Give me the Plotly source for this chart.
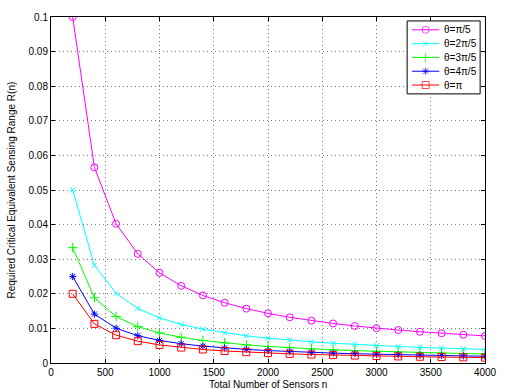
import plotly.graph_objects as go

n = [200, 400, 600, 800, 1000, 1200, 1400, 1600, 1800, 2000,
     2200, 2400, 2600, 2800, 3000, 3200, 3400, 3600, 3800, 4000]

r_pi5 = [0.1, 0.05654, 0.04025, 0.03154, 0.02608, 0.02230, 0.01953, 0.01741, 0.01572, 0.01435,
         0.01321, 0.01224, 0.01142, 0.01070, 0.01007, 0.00952, 0.00903, 0.00859, 0.00819, 0.00783]
r_2pi5 = [0.05, 0.02827, 0.02013, 0.01577, 0.01304, 0.01115, 0.00977, 0.00871, 0.00786, 0.00717,
          0.00661, 0.00612, 0.00571, 0.00535, 0.00504, 0.00476, 0.00452, 0.00430, 0.00410, 0.00392]
r_3pi5 = [0.03333, 0.01885, 0.01342, 0.01051, 0.00869, 0.00743, 0.00651, 0.00580, 0.00524, 0.00478,
          0.00440, 0.00408, 0.00381, 0.00357, 0.00336, 0.00317, 0.00301, 0.00286, 0.00273, 0.00261]
r_4pi5 = [0.025, 0.01414, 0.01006, 0.00789, 0.00652, 0.00558, 0.00488, 0.00435, 0.00393, 0.00359,
          0.00330, 0.00306, 0.00286, 0.00268, 0.00252, 0.00238, 0.00226, 0.00215, 0.00205, 0.00196]
r_pi = [0.02, 0.01131, 0.00805, 0.00631, 0.00522, 0.00446, 0.00391, 0.00348, 0.00314, 0.00287,
        0.00264, 0.00245, 0.00228, 0.00214, 0.00201, 0.00190, 0.00181, 0.00172, 0.00164, 0.00157]

names = ["θ=π/5", "θ=2π/5", "θ=3π/5", "θ=4π/5", "θ=π"]
series = [r_pi5, r_2pi5, r_3pi5, r_4pi5, r_pi]
colors = ["#FF00FF", "#00FFFF", "#00FF00", "#0000FF", "#FF0000"]
symbols = ["circle-open", "x-thin-open", "cross-thin-open", "asterisk-open", "square-open"]
sizes = [7, 5, 7, 6, 7]

# plot area in pixels
L, R, T, B = 51, 497, 12, 363
W, H = 508, 389

fig = go.Figure()
for nm, ys, c, s, sz in zip(names, series, colors, symbols, sizes):
    fig.add_trace(go.Scatter(x=n, y=ys, name=nm, mode="lines+markers", showlegend=False,
                             line=dict(color=c, width=1),
                             marker=dict(symbol=s, size=sz, color=c, line=dict(color=c, width=1))))

font = dict(family="Liberation Sans, Arial, sans-serif", size=10, color="#000")
axis_common = dict(showline=True, linecolor="#000", linewidth=1, mirror="ticks",
                   ticks="inside", ticklen=4, tickcolor="#000",
                   showgrid=True, gridcolor="#777", griddash="1px,3px", gridwidth=1,
                   zeroline=False, tickfont=font)

# manual legend (pixel coordinates via overlay axes)
bx0, by0, bx1, by1 = 417, 16, 492, 90
leg_line_x0, leg_line_x1, leg_text_x = 422, 450, 453
leg_y0, leg_dy = 25, 14

fig.add_trace(go.Scatter(x=[bx0, bx1, bx1, bx0, bx0], y=[by0, by0, by1, by1, by0],
                         xaxis="x2", yaxis="y2", mode="lines", fill="toself",
                         fillcolor="white", line=dict(color="#000", width=1),
                         showlegend=False, hoverinfo="skip", cliponaxis=False))

annotations = []
for i, (nm, c, s, sz) in enumerate(zip(names, colors, symbols, sizes)):
    yy = leg_y0 + i * leg_dy
    xm = (leg_line_x0 + leg_line_x1) / 2
    fig.add_trace(go.Scatter(x=[leg_line_x0, xm, leg_line_x1], y=[yy, yy, yy],
                             xaxis="x2", yaxis="y2", mode="lines+markers",
                             line=dict(color=c, width=1), showlegend=False, hoverinfo="skip",
                             cliponaxis=False,
                             marker=dict(symbol=s, size=[0, sz, 0], color=c,
                                         line=dict(color=c, width=1))))
    annotations.append(dict(text=nm, x=leg_text_x, y=yy, xref="x2", yref="y2",
                            xanchor="left", yanchor="middle", showarrow=False, font=font))

annotations += [
    dict(text="Total Number of Sensors n", x=0.5, y=0, xref="paper", yref="paper",
         xanchor="center", yanchor="top", yshift=-14, showarrow=False, font=font),
    dict(text="Required Critical Equivalent Sensing Range R(n)", x=0, y=0.5,
         xref="paper", yref="paper", xanchor="right", yanchor="middle", xshift=-33,
         textangle=-90, showarrow=False, font=font),
]

fig.update_layout(
    width=W, height=H,
    margin=dict(l=L, r=W - R, t=T, b=H - B),
    paper_bgcolor="white", plot_bgcolor="white",
    font=font,
    xaxis=dict(range=[0, 4000], dtick=500, **axis_common),
    yaxis=dict(range=[0, 0.1], dtick=0.01, tickformat="~g", **axis_common),
    xaxis2=dict(range=[L, R], overlaying="x", visible=False, fixedrange=True),
    yaxis2=dict(range=[B, T], overlaying="y", visible=False, fixedrange=True),
    showlegend=False,
    annotations=annotations,
)

post = (
    "document.documentElement.style.overflow='hidden';"
    "document.body.style.margin='0';document.body.style.padding='0';"
    "document.body.style.overflow='hidden';"
    "var d=document.getElementById('{plot_id}');"
    "d.style.position='absolute';d.style.left='0px';d.style.top='0px';"
)
fig.write_html("out.html", config={"displayModeBar": False}, post_script=post)
